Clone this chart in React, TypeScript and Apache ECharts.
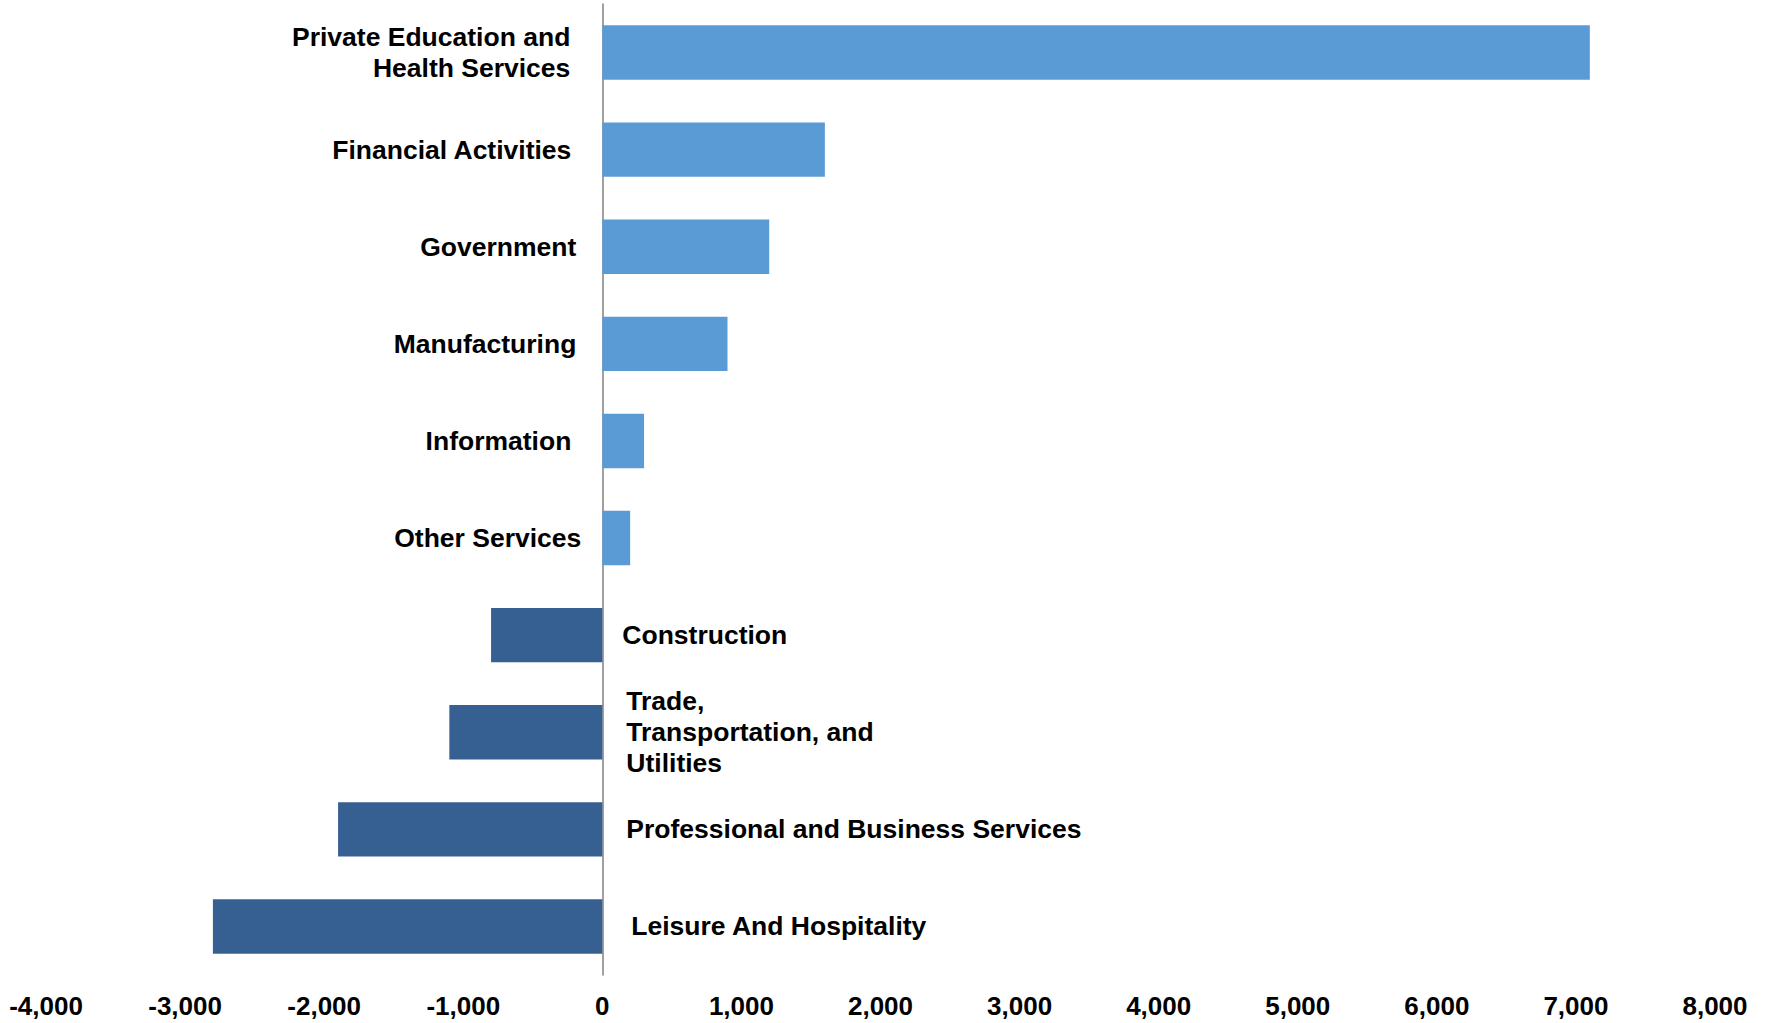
import React, { useEffect, useRef } from "react";
import * as echarts from "echarts";

const categories = [
  "Private Education and\nHealth Services",
  "Financial Activities",
  "Government",
  "Manufacturing",
  "Information",
  "Other Services",
  "Construction",
  "Trade,\nTransportation, and\nUtilities",
  "Professional and Business Services",
  "Leisure And Hospitality",
];
const values = [7100, 1600, 1200, 900, 300, 200, -800, -1100, -1900, -2800];
const xTicks = { min: -4000, max: 8000, interval: 1000 };

// layout only: gap between the zero line and each category label
const labelGaps = [32, 31, 26, 26, 31, 21, 20, 24, 24, 29];

const POS_COLOR = "#5B9BD5";
const NEG_COLOR = "#376092";
const FONT = "Liberation Sans, Arial, sans-serif";

export default function App() {
  const ref = useRef<HTMLDivElement>(null);
  useEffect(() => {
    document.body.style.margin = "0";
    const chart = echarts.init(ref.current!, null, { renderer: "svg" });
    chart.setOption({
      animation: false,
      backgroundColor: "#ffffff",
      grid: { left: 46, right: 54, top: 4, bottom: 48, containLabel: false },
      xAxis: {
        type: "value",
        min: xTicks.min,
        max: xTicks.max,
        interval: xTicks.interval,
        axisLine: { show: false },
        axisTick: { show: false },
        splitLine: { show: false },
        axisLabel: {
          color: "#000",
          fontFamily: FONT,
          fontWeight: "bold",
          fontSize: 26,
          margin: 18,
          formatter: (v: number) => v.toLocaleString("en-US"),
        },
      },
      yAxis: {
        type: "category",
        inverse: true,
        data: categories,
        axisLine: { show: true, onZero: true, lineStyle: { color: "#808080", width: 1.5 } },
        axisTick: { show: false },
        axisLabel: { show: false },
        splitLine: { show: false },
      },
      series: [
        {
          type: "bar",
          data: values.map((v) => ({
            value: v,
            itemStyle: { color: v >= 0 ? POS_COLOR : NEG_COLOR },
          })),
          barWidth: "56%",
          z: 2,
        },
        {
          type: "scatter",
          symbolSize: 0,
          silent: true,
          z: 5,
          itemStyle: { color: "#000000", opacity: 1 },
          data: categories.map((c, i) => ({
            value: [0, i],
            label: {
              show: true,
              position: values[i] >= 0 ? "left" : "right",
              distance: labelGaps[i],
              formatter: c,
              color: "#000000",
              opacity: 1,
              textBorderWidth: 0,
              fontFamily: FONT,
              fontWeight: "bold",
              fontSize: 26.5,
              lineHeight: 31,
            },
          })),
        },
      ],
    });
    return () => chart.dispose();
  }, []);
  return <div ref={ref} style={{ width: 1769, height: 1023 }} />;
}
